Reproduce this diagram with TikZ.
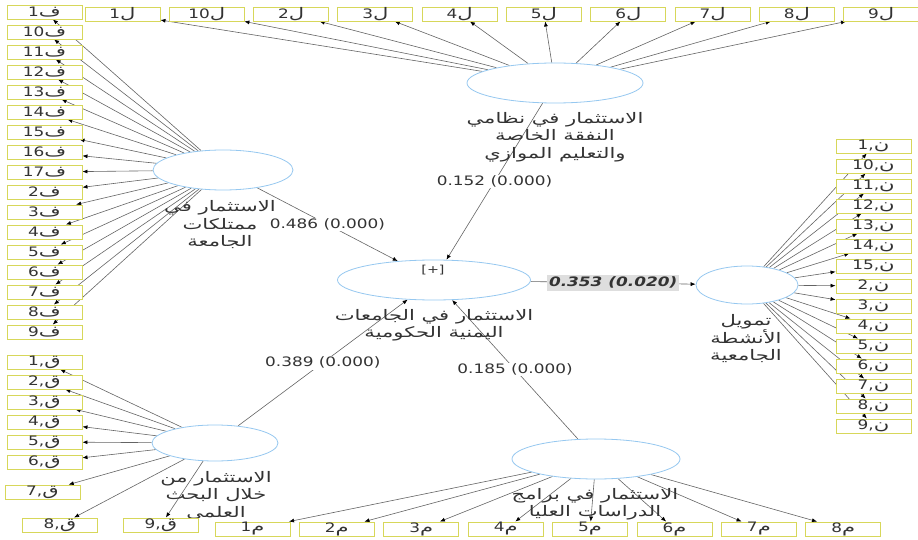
\documentclass[tikz,border=0pt]{standalone}
\usepackage{fontspec}
\setmainfont{DejaVu Sans}[FakeStretch=1.3]
\newfontfamily\arfont[Script=Arabic,Scale=1.12,FakeStretch=1.45]{DejaVu Sans}
\TeXXeTstate=1
\usetikzlibrary{arrows.meta,shapes.geometric,backgrounds}

\definecolor{lvbord}{RGB}{150,200,240}
\definecolor{indbord}{RGB}{215,215,90}
\definecolor{linegray}{RGB}{100,100,100}
\definecolor{coefbg}{RGB}{222,222,222}
\newcommand{\ar}[1]{{\arfont\beginR #1\endR}}

\begin{document}
\begin{tikzpicture}[x=1pt, y=-1pt,
  font=\fontsize{13}{17.5}\selectfont, text=black!80,
  >={Latex[length=5pt,width=4pt,color=black]},
  lv/.style={draw=lvbord, line width=0.8pt, fill=white, ellipse, inner sep=0pt},
  ind/.style={draw=indbord, line width=0.9pt, fill=white,
              minimum width=75pt, minimum height=14pt, inner sep=0pt},
  lvtext/.style={align=center, inner sep=0pt},
  coef/.style={fill=white, inner sep=1pt},
  arr/.style={->, draw=linegray, line width=0.6pt},
]
\useasboundingbox (0,0) rectangle (918,540);

% constructs
\node[lv, minimum width=176pt, minimum height=40pt] (nz) at (555,83)  {};
\node[lv, minimum width=140pt, minimum height=40pt] (mm) at (223,170) {};
\node[lv, minimum width=193pt, minimum height=40pt] (jy) at (434,280) {};
\node[lv, minimum width=102pt, minimum height=38pt] (tm) at (747,285) {};
\node[lv, minimum width=126pt, minimum height=36pt] (bh) at (215,443) {};
\node[lv, minimum width=168pt, minimum height=40pt] (dr) at (596,459) {};
\node[lvtext, font=\fontsize{11}{13}\selectfont] (plus) at (433,270) {[+]};

\node[lvtext] (nzlab) at (555,137) {\ar{الاستثمار في نظامي}\\\ar{النفقة الخاصة}\\\ar{والتعليم الموازي}};
\node[lvtext] (mmlab) at (220,225) {\ar{الاستثمار في}\\\ar{ممتلكات}\\\ar{الجامعة}};
\node[lvtext] (jylab) at (434,325) {\ar{الاستثمار في الجامعات}\\\ar{اليمنية الحكومية}};
\node[lvtext] (tmlab) at (746,339) {\ar{تمويل}\\\ar{الأنشطة}\\\ar{الجامعية}};
\node[lvtext] (bhlab) at (216,496) {\ar{الاستثمار من}\\\ar{خلال البحث}\\\ar{العلمي}};
\node[lvtext] (drlab) at (595,504) {\ar{الاستثمار في برامج}\\\ar{الدراسات العليا}};

% indicators
\foreach \lab [count=\i from 0] in {1,10,2,3,4,5,6,7,8,9}
  \node[ind] (l\lab) at (122.5+84.3*\i,14) {\lab{\arfont ل}};
\foreach \lab [count=\i from 0] in {1,10,11,12,13,14,15,16,17,2,3,4,5,6,7,8,9}
  \node[ind] (f\lab) at (44.5,12+20*\i) {\lab{\arfont ف}};
\foreach \lab [count=\i from 0] in {1,10,11,12,13,14,15,2,3,4,5,6,7,8,9}
  \node[ind] (n\lab) at (873.5,146+20*\i) {\lab,{\arfont ن}};
\foreach \lab/\px/\py in {1/44.5/362,2/44.5/382,3/44.5/402,4/44.5/422,5/44.5/442,
                          6/44.5/462,7/42.5/492,8/60/525,9/161/525}
  \node[ind] (q\lab) at (\px,\py) {\lab,{\arfont ق}};
\foreach \lab [count=\i from 0] in {1,...,8}
  \node[ind] (m\lab) at (252.5+84.4*\i,529) {\lab{\arfont م}};

\begin{scope}[on background layer]
\foreach \lab in {1,10,2,3,4,5,6,7,8,9} \draw[arr] (nz) -- (l\lab);
\foreach \lab in {1,10,11,12,13,14,15,16,17,2,3,4,5,6,7,8,9} \draw[arr] (mm) -- (f\lab);
\foreach \lab in {1,10,11,12,13,14,15,2,3,4,5,6,7,8,9} \draw[arr] (tm) -- (n\lab);
\foreach \lab in {1,...,9} \draw[arr] (bh) -- (q\lab);
\foreach \lab in {1,...,8} \draw[arr] (dr) -- (m\lab);

% path coefficients
\draw[arr] (mm) -- node[coef] {0.486 (0.000)} (jy);
\draw[arr] (nz) -- node[coef] {0.152 (0.000)} (jy);
\draw[arr] (bh) -- node[coef] {0.389 (0.000)} (jy);
\draw[arr] (dr) -- node[coef] {0.185 (0.000)} (jy);
\draw[arr] (jy) -- node[coef, fill=coefbg, inner sep=2pt, font=\fontsize{13}{17.5}\selectfont\bfseries\itshape] {0.353 (0.020)} (tm);
\end{scope}
\end{tikzpicture}
\end{document}
